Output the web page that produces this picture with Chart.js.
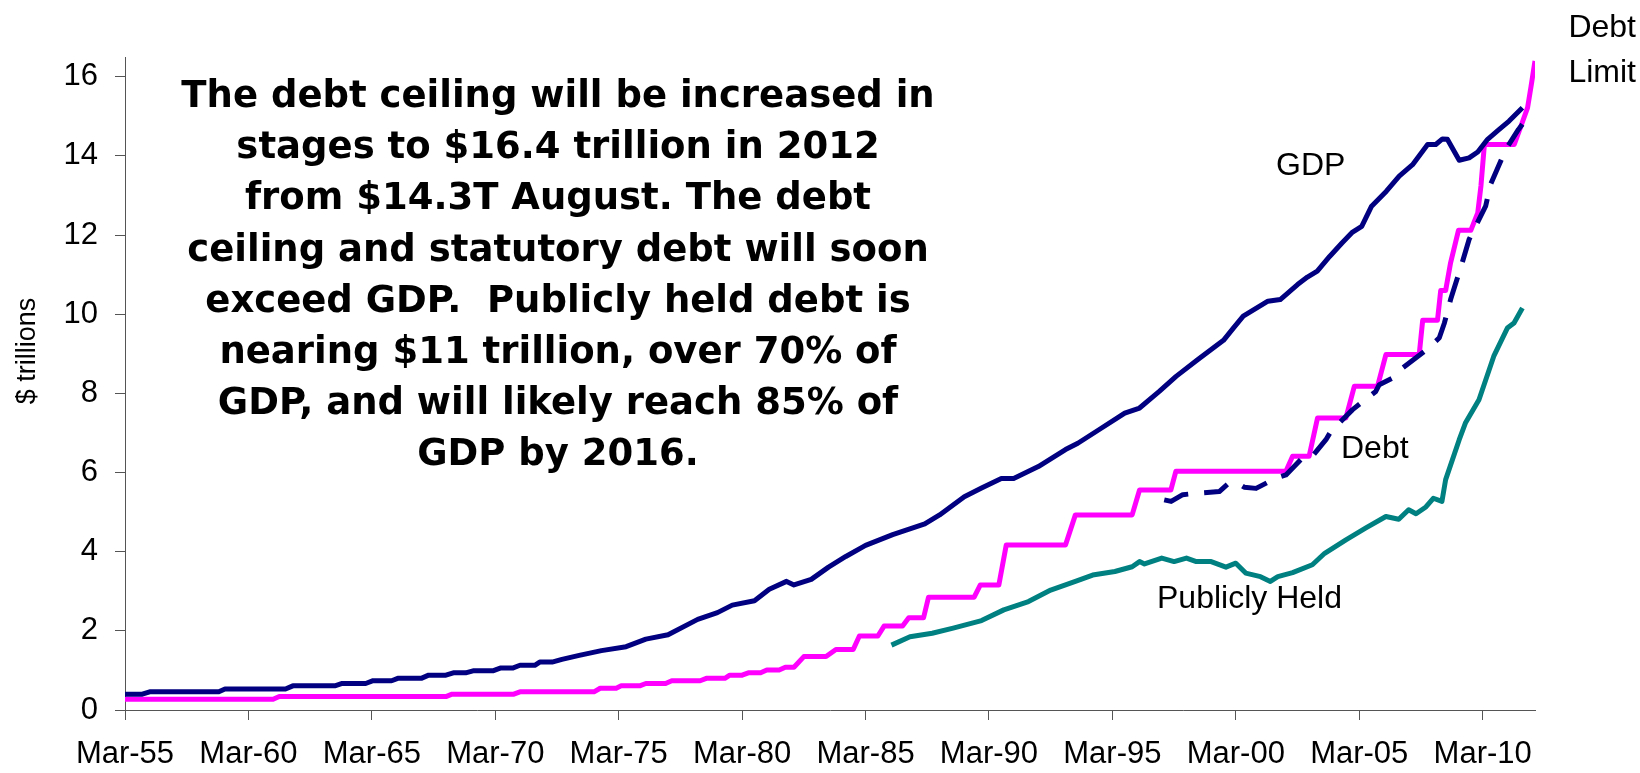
<!DOCTYPE html>
<html>
<head>
<meta charset="utf-8">
<script src="https://cdn.jsdelivr.net/npm/chart.js@4.4.1/dist/chart.umd.min.js"></script>
<style>
    html, body { margin: 0; padding: 0; background: #ffffff; }
    #grafico { display: block; }
</style>
</head>
<body>
<canvas id="grafico" width="1640" height="773"></canvas>
<script>
// DADOS (anos decimais: Mar-55 = 1955.0)
const xTickLabels = ['Mar-55', 'Mar-60', 'Mar-65', 'Mar-70', 'Mar-75', 'Mar-80',
    'Mar-85', 'Mar-90', 'Mar-95', 'Mar-00', 'Mar-05', 'Mar-10'];
const yTickLabels = ['0', '2', '4', '6', '8', '10', '12', '14', '16'];

const gdpYears = [1955.0, 1955.7, 1956.0, 1958.8, 1959.05, 1961.5, 1961.8, 1963.5, 1963.8, 1964.75,
    1965.05, 1965.8, 1966.05, 1967.0, 1967.3, 1968.0, 1968.3, 1968.8, 1969.1, 1969.9,
    1970.2, 1970.7, 1971.0, 1971.6, 1971.8, 1972.3, 1972.7, 1973.4, 1974.3, 1975.3,
    1976.1, 1977.0, 1978.2, 1979.0, 1979.6, 1980.5, 1981.1, 1981.8, 1982.1, 1982.8,
    1983.5, 1984.2, 1985.0, 1986.1, 1987.4, 1988.0, 1989.0, 1989.7, 1990.5, 1991.0,
    1992.0, 1993.1, 1993.6, 1994.5, 1995.5, 1996.1, 1996.9, 1997.58, 1998.45, 1999.5,
    1999.9, 2000.3, 2001.3, 2001.8, 2002.5, 2002.9, 2003.3, 2003.8, 2004.3, 2004.7,
    2005.1, 2005.5, 2006.1, 2006.62, 2007.16, 2007.77, 2008.1, 2008.37, 2008.57, 2009.05,
    2009.45, 2009.8, 2010.2, 2010.67, 2011.07, 2011.61];
const gdpValues = [0.40, 0.40, 0.46, 0.46, 0.53, 0.53, 0.61, 0.61, 0.67, 0.67,
    0.74, 0.74, 0.80, 0.80, 0.88, 0.88, 0.94, 0.94, 0.99, 0.99,
    1.06, 1.06, 1.13, 1.13, 1.21, 1.21, 1.28, 1.38, 1.50, 1.60,
    1.79, 1.90, 2.29, 2.46, 2.65, 2.76, 3.05, 3.25, 3.16, 3.30,
    3.61, 3.88, 4.16, 4.43, 4.70, 4.93, 5.39, 5.61, 5.85, 5.85,
    6.15, 6.58, 6.74, 7.10, 7.50, 7.63, 8.05, 8.43, 8.85, 9.34,
    9.65, 9.95, 10.33, 10.37, 10.75, 10.94, 11.09, 11.46, 11.80, 12.06,
    12.22, 12.73, 13.11, 13.49, 13.78, 14.29, 14.29, 14.43, 14.42, 13.89,
    13.95, 14.10, 14.42, 14.67, 14.88, 15.22];

const limitYears = [1955.0, 1961.0, 1961.25, 1968.0, 1968.25, 1970.75, 1971.0, 1974.0, 1974.25, 1974.9,
    1975.1, 1975.85, 1976.1, 1976.9, 1977.15, 1978.3, 1978.55, 1979.3, 1979.5, 1980.0,
    1980.25, 1980.75, 1981.0, 1981.5, 1981.75, 1982.1, 1982.5, 1983.4, 1983.6, 1983.8,
    1984.5, 1984.75, 1985.5, 1985.75, 1986.5, 1986.75, 1987.35, 1987.55, 1989.4, 1989.65,
    1990.4, 1990.7, 1993.1, 1993.5, 1995.8, 1996.1, 1997.37, 1997.57, 2002.03, 2002.3,
    2002.97, 2003.31, 2004.46, 2004.8, 2005.74, 2006.08, 2007.43, 2007.57, 2008.17, 2008.3,
    2008.5, 2008.7, 2009.02, 2009.52, 2009.8, 2009.93, 2010.07, 2011.28, 2011.48, 2011.82,
    2011.96, 2012.12];
const limitValues = [0.27, 0.27, 0.34, 0.34, 0.40, 0.40, 0.46, 0.46, 0.55, 0.55,
    0.61, 0.61, 0.67, 0.67, 0.74, 0.74, 0.80, 0.80, 0.88, 0.88,
    0.94, 0.94, 1.01, 1.01, 1.08, 1.08, 1.35, 1.35, 1.44, 1.53,
    1.53, 1.87, 1.87, 2.12, 2.12, 2.33, 2.33, 2.85, 2.85, 3.16,
    3.16, 4.17, 4.17, 4.93, 4.93, 5.56, 5.56, 6.03, 6.03, 6.41,
    6.41, 7.38, 7.38, 8.18, 8.18, 8.98, 8.98, 9.85, 9.85, 10.60,
    10.60, 11.30, 12.12, 12.12, 12.56, 13.24, 14.29, 14.29, 14.63, 15.22,
    15.76, 16.40];

const heldYears = [1986.05, 1986.8, 1987.7, 1988.55, 1989.7, 1990.6, 1991.6, 1992.5, 1993.5, 1994.2,
    1995.1, 1995.8, 1996.1, 1996.3, 1997.0, 1997.5, 1998.0, 1998.4, 1999.0, 1999.6,
    2000.0, 2000.4, 2001.0, 2001.4, 2001.7, 2002.3, 2003.1, 2003.6, 2004.46, 2005.27,
    2006.08, 2006.6, 2007.0, 2007.3, 2007.7, 2008.0, 2008.35, 2008.5, 2009.05, 2009.3,
    2009.85, 2010.45, 2011.0, 2011.27, 2011.61];
const heldValues = [1.64, 1.85, 1.94, 2.07, 2.26, 2.53, 2.74, 3.03, 3.25, 3.41,
    3.50, 3.62, 3.75, 3.69, 3.84, 3.75, 3.84, 3.75, 3.75, 3.61,
    3.71, 3.46, 3.37, 3.25, 3.37, 3.47, 3.67, 3.96, 4.30, 4.60,
    4.89, 4.82, 5.06, 4.96, 5.13, 5.35, 5.27, 5.82, 6.83, 7.25,
    7.84, 8.94, 9.65, 9.78, 10.16];

const debtYears = [1997.1, 1997.38, 1997.85, 1998.46, 1999.33, 1999.67, 2000.07, 2000.34, 2000.82, 2001.63,
    2002.03, 2002.7, 2003.04, 2003.65, 2003.85, 2004.73, 2005.67, 2005.81, 2006.35, 2006.75,
    2007.63, 2008.24, 2008.45, 2008.7, 2009.17, 2009.45, 2010.12, 2010.32, 2010.93, 2011.45,
    2011.61];
const debtValues = [5.31, 5.27, 5.44, 5.48, 5.52, 5.71, 5.73, 5.63, 5.60, 5.86,
    5.94, 6.37, 6.37, 6.83, 7.04, 7.59, 8.05, 8.22, 8.39, 8.64,
    9.06, 9.40, 9.78, 10.37, 11.30, 11.89, 12.73, 13.28, 14.16, 14.67,
    14.80];

const textoNota = [
    'The debt ceiling will be increased in',
    'stages to $16.4 trillion in 2012',
    'from $14.3T August. The debt',
    'ceiling and statutory debt will soon',
    'exceed GDP.  Publicly held debt is',
    'nearing $11 trillion, over 70% of',
    'GDP, and will likely reach 85% of',
    'GDP by 2016.'
];

// FUNCOES
function montarPontos(anos, valores) {
    return anos.map((ano, i) => ({ x: ano, y: valores[i] }));
}

const fonteArial = '"Arial", "Liberation Sans", sans-serif';

const pluginTextos = {
    id: 'textos',
    afterDraw(chart) {
        const c = chart.ctx;
        c.save();
        c.fillStyle = '#000000';

        // nota principal
        c.font = 'bold 37px "Comic Sans MS", "DejaVu Sans", sans-serif';
        c.textAlign = 'center';
        c.textBaseline = 'alphabetic';
        textoNota.forEach((linha, i) => {
            c.fillText(linha, 558, 107 + i * 51.2);
        });

        // rotulos das series
        c.font = '32px ' + fonteArial;
        c.textAlign = 'left';
        c.fillText('GDP', 1276, 175);
        c.fillText('Debt', 1341, 458);
        c.fillText('Publicly Held', 1157, 608);
        c.textAlign = 'right';
        c.fillText('Debt', 1636, 37);
        c.fillText('Limit', 1636, 82);

        // titulo do eixo y
        c.font = '27px ' + fonteArial;
        c.translate(35, 351);
        c.rotate(-Math.PI / 2);
        c.textAlign = 'center';
        c.fillText('$ trillions', 0, 0);
        c.restore();
    }
};

const ctx = document.getElementById('grafico').getContext('2d');

new Chart(ctx, {
    type: 'line',
    data: {
        datasets: [{
            label: 'Debt',
            data: montarPontos(debtYears, debtValues),
            borderColor: '#000080',
            borderWidth: 5,
            borderDash: [26, 16],
            order: 0
        }, {
            label: 'GDP',
            data: montarPontos(gdpYears, gdpValues),
            borderColor: '#000080',
            borderWidth: 5,
            order: 1
        }, {
            label: 'Debt Limit',
            data: montarPontos(limitYears, limitValues),
            borderColor: '#FF00FF',
            borderWidth: 5,
            order: 2
        }, {
            label: 'Publicly Held',
            data: montarPontos(heldYears, heldValues),
            borderColor: '#008080',
            borderWidth: 5,
            order: 3
        }]
    },
    options: {
        responsive: false,
        animation: false,
        elements: {
            point: { radius: 0 },
            line: { tension: 0, fill: false, borderJoinStyle: 'round' }
        },
        layout: { padding: { top: 57, right: 105, left: 0, bottom: 0 } },
        plugins: {
            legend: { display: false },
            tooltip: { enabled: false }
        },
        scales: {
            x: {
                type: 'linear',
                min: 1955,
                max: 2012.12,
                afterFit: (s) => { s.height = 63; },
                ticks: {
                    stepSize: 5,
                    includeBounds: false,
                    autoSkip: false,
                    maxRotation: 0,
                    padding: 16,
                    color: '#000000',
                    font: { family: fonteArial, size: 31 },
                    callback: (v) => xTickLabels[Math.round((v - 1955) / 5)]
                },
                grid: { drawOnChartArea: false, tickLength: 10, color: '#555555', lineWidth: 1 },
                border: { color: '#555555', width: 1 }
            },
            y: {
                min: 0,
                max: 16.5,
                afterFit: (s) => { s.width = 125; },
                ticks: {
                    stepSize: 2,
                    includeBounds: false,
                    padding: 17,
                    color: '#000000',
                    font: { family: fonteArial, size: 31 },
                    callback: (v) => yTickLabels[Math.round(v / 2)]
                },
                grid: { drawOnChartArea: false, tickLength: 10, color: '#555555', lineWidth: 1 },
                border: { color: '#555555', width: 1 }
            }
        }
    },
    plugins: [pluginTextos]
});
</script>
</body>
</html>
